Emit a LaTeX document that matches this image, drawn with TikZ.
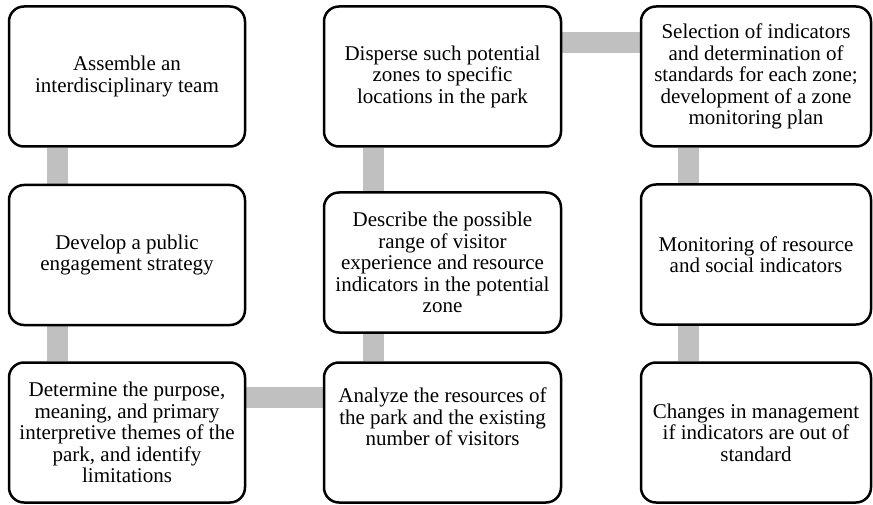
\documentclass[tikz,border=0pt]{standalone}
\usepackage{fontspec}
\setmainfont{Liberation Serif}
\usetikzlibrary{backgrounds}
\definecolor{bargray}{RGB}{191,192,191}

\begin{document}
\begin{tikzpicture}[x=1pt, y=1pt,
  stage/.style={draw, line width=2.5pt, rounded corners=15pt, align=center,
    inner sep=0pt, minimum height=140pt, font=\fontsize{21}{21.5}\selectfont},
  link/.style={bargray, line width=21pt}]
\useasboundingbox (0,0) rectangle (873,-505);
% left column
\node[stage, minimum width=236pt] (assemble) at (127,-76.5) {Assemble an\\interdisciplinary team};
\node[stage, minimum width=236pt] (engage) at (127,-255) {Develop a public\\engagement strategy};
\node[stage, minimum width=236pt] (purpose) at (127,-432.5) {Determine the purpose,\\meaning, and primary\\interpretive themes of the\\park, and identify\\limitations};
% middle column
\node[stage, minimum width=237pt] (analyze) at (442.5,-432.5) {Analyze the resources of\\the park and the existing\\number of visitors\\[10pt]};
\node[stage, minimum width=237pt] (describe) at (442.5,-262.5) {Describe the possible\\range of visitor\\experience and resource\\indicators in the potential\\zone};
\node[stage, minimum width=237pt] (disperse) at (442.5,-76.5) {Disperse such potential\\zones to specific\\locations in the park};
% right column
\node[stage, minimum width=230pt] (select) at (756,-76.5) {Selection of indicators\\and determination of\\standards for each zone;\\development of a zone\\monitoring plan};
\node[stage, minimum width=230pt] (monitor) at (756,-254.5) {Monitoring of resource\\and social indicators};
\node[stage, minimum width=230pt] (change) at (756,-432.5) {Changes in management\\if indicators are out of\\standard};
\begin{scope}[on background layer]
\draw[link] ([xshift=-70pt]assemble.south) -- ([xshift=-70pt]engage.north);
\draw[link] ([xshift=-70pt]engage.south) -- ([xshift=-70pt]purpose.north);
\draw[link] ([yshift=35pt]purpose.east) -- ([yshift=35pt]analyze.west);
\draw[link] ([xshift=-69.5pt]analyze.north) -- ([xshift=-69.5pt]describe.south);
\draw[link] ([xshift=-69.5pt]describe.north) -- ([xshift=-69.5pt]disperse.south);
\draw[link] ([yshift=34pt]disperse.east) -- ([yshift=34pt]select.west);
\draw[link] ([xshift=-67.5pt]select.south) -- ([xshift=-67.5pt]monitor.north);
\draw[link] ([xshift=-67.5pt]monitor.south) -- ([xshift=-67.5pt]change.north);
\end{scope}
\end{tikzpicture}
\end{document}
